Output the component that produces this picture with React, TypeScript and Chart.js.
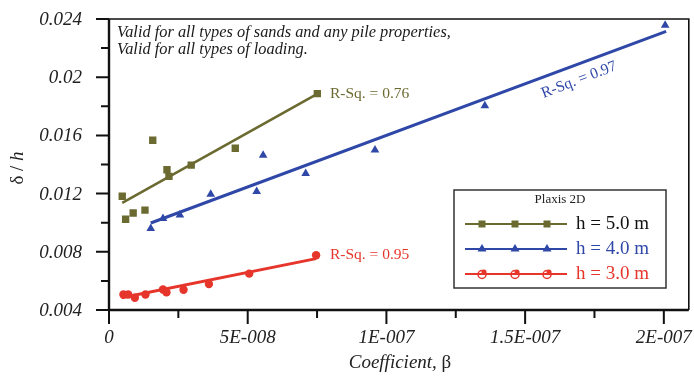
import React, { useEffect, useRef } from 'react';
import { Chart, registerables } from 'chart.js';

Chart.register(...registerables);

// ---- axis definition ----
const X_MIN = 0;
const X_MAX = 2.09e-7;
const Y_MIN = 0.004;
const Y_MAX = 0.024;
const X_TICK_VALUES = [0, 5e-8, 1e-7, 1.5e-7, 2e-7];
const X_TICK_LABELS = ['0', '5E-008', '1E-007', '1.5E-007', '2E-007'];
const X_MINOR_TICKS = [2.5e-8, 7.5e-8, 1.25e-7, 1.75e-7];
const Y_TICK_VALUES = [0.004, 0.008, 0.012, 0.016, 0.02, 0.024];
const Y_TICK_LABELS = ['0.004', '0.008', '0.012', '0.016', '0.02', '0.024'];
const Y_MINOR_TICKS = [0.006, 0.01, 0.014, 0.018, 0.022];

// ---- h = 5.0 m (squares) ----
const H5_X = [0.477e-8, 0.599e-8, 0.871e-8, 1.297e-8, 1.577e-8, 2.09e-8, 2.161e-8, 2.964e-8, 4.552e-8, 7.509e-8];
const H5_Y = [0.01182, 0.01024, 0.01067, 0.01086, 0.01567, 0.01364, 0.01318, 0.01396, 0.01512, 0.01887];
const H5_FIT_X = [0.477e-8, 7.444e-8];
const H5_FIT_Y = [0.01136, 0.01878];

// ---- h = 4.0 m (triangles) ----
const H4_X = [1.505e-8, 1.946e-8, 2.556e-8, 3.667e-8, 5.323e-8, 5.556e-8, 7.09e-8, 9.588e-8, 13.548e-8, 20.047e-8];
const H4_Y = [0.0096, 0.01029, 0.01053, 0.01196, 0.01215, 0.01463, 0.01339, 0.01499, 0.01803, 0.02357];
const H4_FIT_X = [1.505e-8, 20.083e-8];
const H4_FIT_Y = [0.00998, 0.02315];

// ---- h = 3.0 m (circles) ----
const H3_X = [0.52e-8, 0.692e-8, 0.932e-8, 1.315e-8, 1.946e-8, 2.072e-8, 2.688e-8, 3.602e-8, 5.054e-8, 7.466e-8];
const H3_Y = [0.00507, 0.00507, 0.00484, 0.00507, 0.00541, 0.00521, 0.00539, 0.00578, 0.0065, 0.00776];
const H3_FIT_X = [0.455e-8, 7.466e-8];
const H3_FIT_Y = [0.00484, 0.00753];

// ---- text ----
const NOTE_LINES = ['Valid for all types of sands and any pile properties,', 'Valid for all types of loading.'];
const R2_LABELS = ['R-Sq. = 0.76', 'R-Sq. = 0.97', 'R-Sq. = 0.95'];
const LEGEND_TITLE = 'Plaxis 2D';
const LEGEND_LABELS = ['h = 5.0 m', 'h = 4.0 m', 'h = 3.0 m'];
const X_TITLE_ITALIC = 'Coefficient,';
const X_TITLE_SYMBOL = ' β';
const Y_TITLE_SYMBOL = 'δ / ';
const Y_TITLE_ITALIC = 'h';

const OLIVE = '#6b6a30';
const BLUE = '#2f48a8';
const RED = '#e6352a';
const SERIF = '"Liberation Serif", "Times New Roman", serif';

const pts = (xs: number[], ys: number[]) => xs.map((x, i) => ({ x, y: ys[i] }));

const decorPlugin = {
  id: 'decor',
  afterDraw(chart: any) {
    const { ctx, chartArea } = chart;
    const xs = chart.scales.x;
    const ys = chart.scales.y;
    const { left, right, top, bottom } = chartArea;
    ctx.save();
    ctx.strokeStyle = '#111';
    ctx.lineCap = 'butt';
    // frame top and right
    ctx.lineWidth = 1.6;
    ctx.beginPath();
    ctx.moveTo(left, top);
    ctx.lineTo(right, top);
    ctx.lineTo(right, bottom);
    ctx.stroke();
    // axes
    ctx.lineWidth = 2.4;
    ctx.beginPath();
    ctx.moveTo(left, top);
    ctx.lineTo(left, bottom + 1);
    ctx.moveTo(left - 1, bottom);
    ctx.lineTo(right, bottom);
    ctx.stroke();
    // ticks
    ctx.lineWidth = 2;
    ctx.beginPath();
    Y_TICK_VALUES.forEach((v) => {
      const p = ys.getPixelForValue(v);
      ctx.moveTo(left - 13, p);
      ctx.lineTo(left, p);
    });
    Y_MINOR_TICKS.forEach((v) => {
      const p = ys.getPixelForValue(v);
      ctx.moveTo(left - 8, p);
      ctx.lineTo(left, p);
    });
    X_TICK_VALUES.forEach((v) => {
      const p = xs.getPixelForValue(v);
      ctx.moveTo(p, bottom);
      ctx.lineTo(p, bottom + 14);
    });
    X_MINOR_TICKS.forEach((v) => {
      const p = xs.getPixelForValue(v);
      ctx.moveTo(p, bottom);
      ctx.lineTo(p, bottom + 8);
    });
    ctx.stroke();

    // tick labels
    ctx.fillStyle = '#222';
    ctx.font = `italic 19px ${SERIF}`;
    ctx.textBaseline = 'middle';
    ctx.textAlign = 'right';
    Y_TICK_VALUES.forEach((v, i) => {
      ctx.fillText(Y_TICK_LABELS[i], 82, ys.getPixelForValue(v) + 1);
    });
    ctx.textAlign = 'center';
    X_TICK_VALUES.forEach((v, i) => {
      ctx.fillText(X_TICK_LABELS[i], xs.getPixelForValue(v), 338);
    });

    // axis titles
    ctx.textAlign = 'left';
    ctx.font = `italic 19px ${SERIF}`;
    const w1 = ctx.measureText(X_TITLE_ITALIC).width;
    ctx.font = `19px ${SERIF}`;
    const w2 = ctx.measureText(X_TITLE_SYMBOL).width;
    const xc = 400;
    let sx = xc - (w1 + w2) / 2;
    ctx.font = `italic 19px ${SERIF}`;
    ctx.fillText(X_TITLE_ITALIC, sx, 363);
    ctx.font = `19px ${SERIF}`;
    ctx.fillText(X_TITLE_SYMBOL, sx + w1, 363);

    ctx.save();
    ctx.translate(18, 168);
    ctx.rotate(-Math.PI / 2);
    ctx.font = `19px ${SERIF}`;
    const w3 = ctx.measureText(Y_TITLE_SYMBOL).width;
    ctx.font = `italic 19px ${SERIF}`;
    const w4 = ctx.measureText(Y_TITLE_ITALIC).width;
    sx = -(w3 + w4) / 2;
    ctx.font = `19px ${SERIF}`;
    ctx.fillText(Y_TITLE_SYMBOL, sx, 0);
    ctx.font = `italic 19px ${SERIF}`;
    ctx.fillText(Y_TITLE_ITALIC, sx + w3, 0);
    ctx.restore();

    // note
    ctx.textBaseline = 'alphabetic';
    ctx.fillStyle = '#1a1a1a';
    ctx.font = `italic 15px ${SERIF}`;
    const nw = ctx.measureText(NOTE_LINES[0]).width;
    const ns = (15 * 334) / nw;
    ctx.font = `italic ${ns.toFixed(2)}px ${SERIF}`;
    ctx.fillText(NOTE_LINES[0], 117, 37);
    ctx.fillText(NOTE_LINES[1], 117, 54);

    // R-sq labels
    ctx.font = `15.5px ${SERIF}`;
    ctx.fillStyle = OLIVE;
    ctx.fillText(R2_LABELS[0], 330, 98);
    ctx.fillStyle = RED;
    ctx.fillText(R2_LABELS[2], 330, 259);
    ctx.save();
    ctx.translate(579, 80);
    ctx.rotate((-21 * Math.PI) / 180);
    ctx.fillStyle = BLUE;
    ctx.textAlign = 'center';
    ctx.textBaseline = 'middle';
    ctx.fillText(R2_LABELS[1], 0, 0);
    ctx.restore();

    // legend
    const bx = 454, by = 190, bw = 212, bh = 98;
    ctx.fillStyle = '#fff';
    ctx.fillRect(bx, by, bw, bh);
    ctx.strokeStyle = '#333';
    ctx.lineWidth = 1.5;
    ctx.strokeRect(bx, by, bw, bh);
    ctx.fillStyle = '#222';
    ctx.font = `13px ${SERIF}`;
    ctx.textAlign = 'center';
    ctx.textBaseline = 'middle';
    ctx.fillText(LEGEND_TITLE, 560, 200);
    const rows = [
      { y: 224, color: OLIVE, text: '#111', shape: 'rect' },
      { y: 249, color: BLUE, text: BLUE, shape: 'tri' },
      { y: 274, color: RED, text: RED, shape: 'circ' },
    ];
    rows.forEach((r, i) => {
      ctx.strokeStyle = r.color;
      ctx.fillStyle = r.color;
      ctx.lineWidth = 2;
      ctx.beginPath();
      ctx.moveTo(465, r.y);
      ctx.lineTo(567, r.y);
      ctx.stroke();
      [482, 515, 547].forEach((mx) => {
        ctx.beginPath();
        if (r.shape === 'rect') {
          ctx.rect(mx - 3.5, r.y - 3.5, 7, 7);
          ctx.fill();
        } else if (r.shape === 'tri') {
          ctx.moveTo(mx, r.y - 5);
          ctx.lineTo(mx + 4.5, r.y + 2.5);
          ctx.lineTo(mx - 4.5, r.y + 2.5);
          ctx.closePath();
          ctx.fill();
        } else {
          ctx.lineWidth = 1.5;
          ctx.arc(mx, r.y + 0.5, 4, 0, Math.PI * 2);
          ctx.stroke();
          ctx.beginPath();
          ctx.arc(mx + 2, r.y - 2, 2.5, 0, Math.PI * 2);
          ctx.fill();
        }
      });
      ctx.fillStyle = r.text;
      ctx.font = `19px ${SERIF}`;
      ctx.textAlign = 'left';
      ctx.textBaseline = 'alphabetic';
      ctx.fillText(LEGEND_LABELS[i], 576, r.y + 5);
    });
    ctx.restore();
  },
};

export default function App() {
  const canvasRef = useRef<HTMLCanvasElement | null>(null);

  useEffect(() => {
    document.body.style.margin = '0';
    const canvas = canvasRef.current;
    if (!canvas) return;
    const fit = (xs: number[], ys: number[], color: string, width: number) => ({
      data: pts(xs, ys),
      showLine: true,
      borderColor: color,
      backgroundColor: color,
      borderWidth: width,
      pointRadius: 0,
      order: 2,
    });
    const chart = new Chart(canvas, {
      type: 'scatter',
      data: {
        datasets: [
          fit(H5_FIT_X, H5_FIT_Y, OLIVE, 2.6),
          fit(H4_FIT_X, H4_FIT_Y, BLUE, 3),
          fit(H3_FIT_X, H3_FIT_Y, RED, 3),
          {
            data: pts(H5_X, H5_Y),
            pointStyle: 'rect',
            pointRadius: 5.2,
            backgroundColor: OLIVE,
            borderColor: OLIVE,
            borderWidth: 0,
            order: 1,
          },
          {
            data: pts(H4_X, H4_Y),
            pointStyle: 'triangle',
            pointRadius: 5,
            backgroundColor: BLUE,
            borderColor: BLUE,
            borderWidth: 0,
            order: 1,
          },
          {
            data: pts(H3_X, H3_Y),
            pointStyle: 'circle',
            pointRadius: 4.2,
            backgroundColor: RED,
            borderColor: RED,
            borderWidth: 0,
            order: 1,
          },
        ],
      },
      options: {
        responsive: false,
        animation: false,
        events: [],
        layout: { padding: { top: 19, right: 2, left: 0, bottom: 0 } },
        plugins: { legend: { display: false }, tooltip: { enabled: false }, title: { display: false } },
        scales: {
          x: {
            type: 'linear',
            min: X_MIN,
            max: X_MAX,
            grid: { display: false },
            border: { display: false },
            ticks: { display: false },
            afterFit: (s: any) => {
              s.height = 76;
            },
          },
          y: {
            type: 'linear',
            min: Y_MIN,
            max: Y_MAX,
            grid: { display: false },
            border: { display: false },
            ticks: { display: false },
            afterFit: (s: any) => {
              s.width = 109;
            },
          },
        },
      },
      plugins: [decorPlugin],
    } as any);
    return () => chart.destroy();
  }, []);

  return <canvas ref={canvasRef} width={694} height={386} style={{ display: 'block' }} />;
}
